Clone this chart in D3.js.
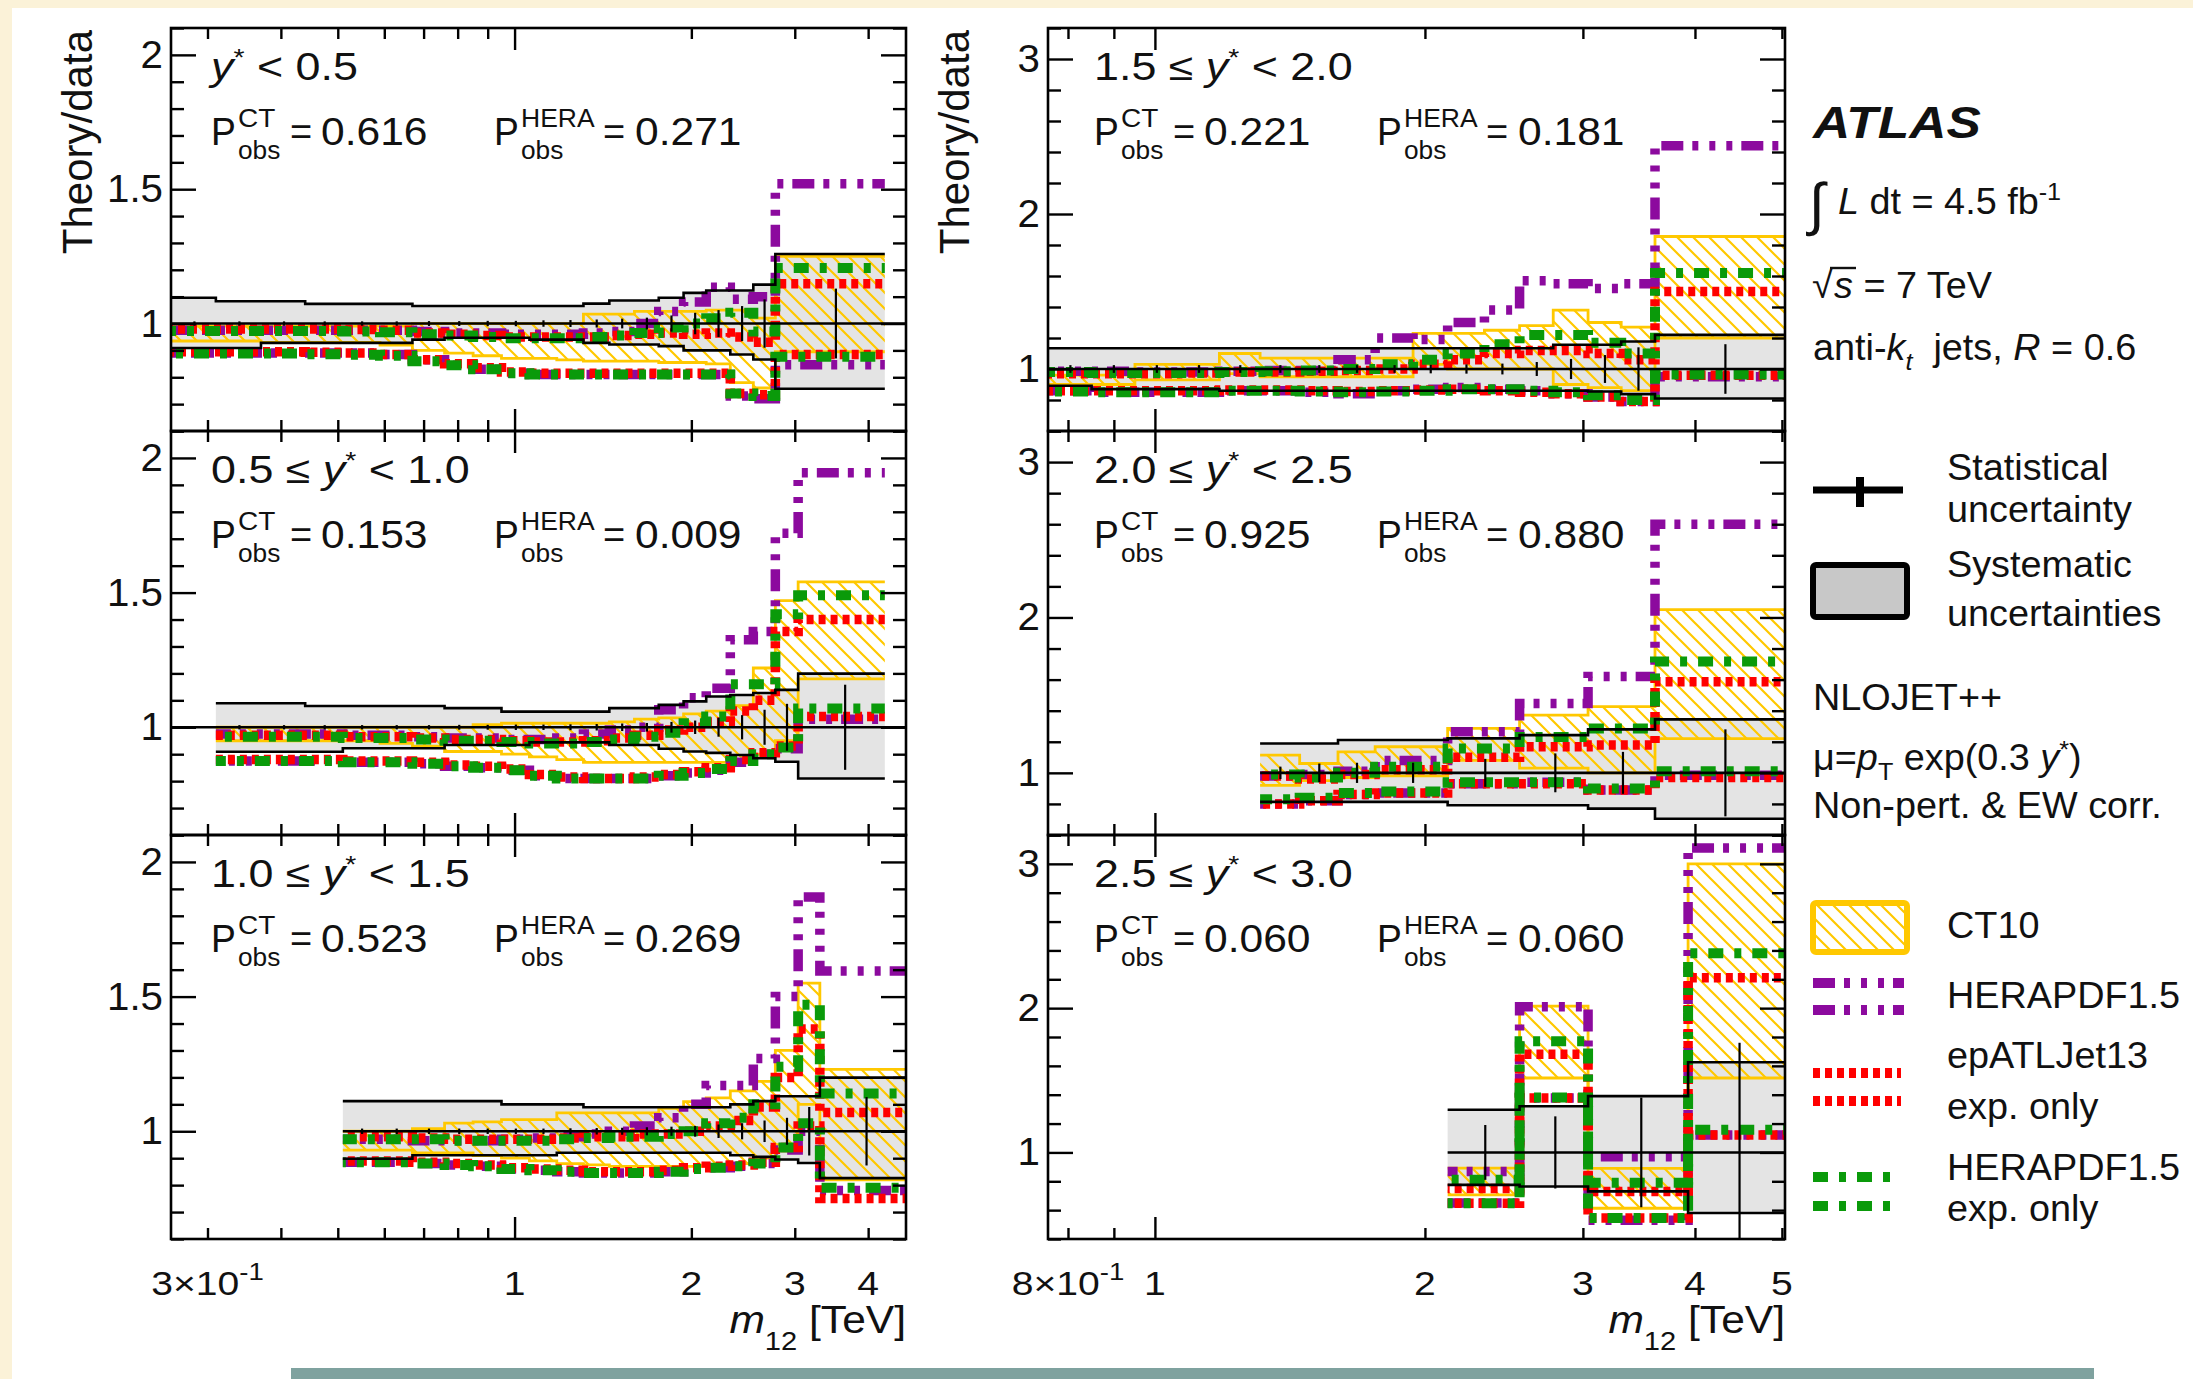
<!DOCTYPE html>
<html>
<head>
<meta charset="utf-8">
<script src="https://cdn.jsdelivr.net/npm/d3@7"></script>
<style>
  html, body { margin: 0; padding: 0; background: #fff; }
  svg { display: block; }
  text { font-family: "Liberation Sans", Arial, Helvetica, sans-serif; fill: #111; white-space: pre; }
</style>
</head>
<body>
<svg id="chart" width="2193" height="1379"></svg>
<script>
// ---------------- data: theory/data ratios per y* bin ----------------
const yStarRanges = [[null, "0.5"], ["0.5", "1.0"], ["1.0", "1.5"], ["1.5", "2.0"], ["2.0", "2.5"], ["2.5", "3.0"]];
const pObsCT   = ["0.616", "0.153", "0.523", "0.221", "0.925", "0.060"];
const pObsHERA = ["0.271", "0.009", "0.269", "0.181", "0.880", "0.060"];

// y* < 0.5
const p1Edges  = [0.26,0.31,0.37,0.44,0.51,0.59,0.67,0.76,0.85,0.95,1.06,1.18,1.31,1.45,1.60,1.76,1.94,2.12,2.33,2.55,2.78,4.27];
const p1SysUp  = [1.096,1.083,1.083,1.073,1.073,1.073,1.065,1.065,1.065,1.065,1.065,1.065,1.074,1.086,1.086,1.096,1.114,1.123,1.123,1.145,1.259];
const p1SysDn  = [0.909,0.909,0.928,0.928,0.928,0.928,0.94,0.947,0.947,0.947,0.94,0.94,0.928,0.922,0.922,0.916,0.90,0.90,0.885,0.866,0.757];
const p1Stat   = [0.008,0.008,0.008,0.008,0.008,0.008,0.009,0.009,0.01,0.01,0.012,0.013,0.015,0.018,0.022,0.03,0.04,0.05,0.065,0.09,0.13];
const p1CtUp   = [0.99,0.99,0.99,0.99,0.99,0.99,1.0,1.0,1.0,1.0,1.0,1.0,1.035,1.035,1.045,1.045,1.045,1.05,1.05,1.02,1.25];
const p1CtDn   = [0.935,0.935,0.93,0.93,0.93,0.92,0.90,0.89,0.88,0.87,0.87,0.865,0.86,0.86,0.86,0.855,0.855,0.85,0.78,0.76,0.895];
const p1HeraUp = [0.975,0.975,0.975,0.975,0.975,0.975,0.97,0.965,0.965,0.96,0.96,0.96,0.965,0.97,1.0,1.045,1.08,1.135,1.09,1.10,1.52];
const p1HeraDn = [0.89,0.89,0.89,0.89,0.89,0.885,0.865,0.845,0.83,0.815,0.81,0.81,0.81,0.81,0.81,0.81,0.81,0.81,0.73,0.72,0.847];
const p1EpUp   = [0.98,0.98,0.98,0.98,0.978,0.975,0.965,0.96,0.955,0.95,0.95,0.95,0.95,0.955,0.96,0.965,0.96,0.965,0.95,0.93,1.148];
const p1EpDn   = [0.895,0.895,0.895,0.893,0.89,0.885,0.865,0.85,0.835,0.82,0.815,0.815,0.815,0.815,0.815,0.815,0.815,0.815,0.74,0.735,0.885];
const p1GrUp   = [0.972,0.972,0.972,0.972,0.97,0.968,0.96,0.955,0.95,0.945,0.945,0.945,0.95,0.955,0.965,0.985,1.0,1.02,1.04,0.97,1.207];
const p1GrDn   = [0.888,0.888,0.888,0.886,0.884,0.88,0.86,0.845,0.83,0.815,0.81,0.81,0.81,0.81,0.81,0.81,0.81,0.81,0.74,0.73,0.876];

// 0.5 <= y* < 1.0
const p2Edges  = [0.31,0.37,0.44,0.51,0.59,0.67,0.76,0.85,0.95,1.06,1.18,1.31,1.45,1.60,1.76,1.94,2.12,2.33,2.55,2.78,3.04,4.27];
const p2SysUp  = [1.089,1.089,1.079,1.079,1.079,1.079,1.071,1.071,1.058,1.058,1.058,1.058,1.071,1.071,1.083,1.096,1.114,1.12,1.127,1.139,1.199];
const p2SysDn  = [0.909,0.909,0.909,0.922,0.922,0.922,0.934,0.934,0.934,0.944,0.944,0.944,0.934,0.934,0.92,0.91,0.905,0.897,0.885,0.872,0.81];
const p2Stat   = [0.008,0.008,0.008,0.008,0.008,0.008,0.009,0.009,0.01,0.01,0.011,0.012,0.014,0.016,0.02,0.025,0.035,0.045,0.065,0.087,0.158];
const p2CtUp   = [1.0,1.0,1.0,1.0,1.0,1.0,1.0,1.01,1.015,1.015,1.015,1.015,1.02,1.03,1.035,1.05,1.06,1.08,1.22,1.47,1.54];
const p2CtDn   = [0.95,0.95,0.95,0.95,0.94,0.93,0.91,0.91,0.90,0.89,0.88,0.87,0.87,0.87,0.87,0.87,0.87,0.87,0.90,0.95,1.18];
const p2HeraUp = [0.975,0.975,0.975,0.97,0.97,0.965,0.96,0.96,0.955,0.955,0.96,0.975,0.99,1.0,1.065,1.11,1.145,1.325,1.356,1.72,1.945];
const p2HeraDn = [0.875,0.875,0.875,0.87,0.87,0.865,0.855,0.85,0.84,0.82,0.81,0.81,0.81,0.81,0.82,0.83,0.84,0.87,0.90,0.92,1.03];
const p2EpUp   = [0.97,0.97,0.97,0.965,0.965,0.96,0.955,0.955,0.95,0.945,0.945,0.95,0.96,0.97,0.99,1.0,1.02,1.06,1.10,1.356,1.40];
const p2EpDn   = [0.88,0.88,0.88,0.875,0.875,0.87,0.86,0.855,0.845,0.825,0.815,0.81,0.81,0.815,0.825,0.835,0.85,0.88,0.905,0.93,1.04];
const p2GrUp   = [0.965,0.965,0.965,0.96,0.96,0.955,0.95,0.95,0.945,0.94,0.94,0.945,0.955,0.965,0.98,1.015,1.04,1.16,1.16,1.42,1.49];
const p2GrDn   = [0.875,0.875,0.875,0.87,0.87,0.865,0.855,0.85,0.84,0.82,0.81,0.81,0.81,0.81,0.82,0.83,0.845,0.875,0.90,0.925,1.07];

// 1.0 <= y* < 1.5
const p3Edges  = [0.51,0.59,0.67,0.76,0.85,0.95,1.06,1.18,1.31,1.45,1.60,1.76,1.94,2.12,2.33,2.55,2.78,3.04,3.31,4.64];
const p3SysUp  = [1.112,1.112,1.112,1.112,1.112,1.10,1.10,1.10,1.089,1.089,1.089,1.089,1.089,1.089,1.10,1.112,1.13,1.13,1.199];
const p3SysDn  = [0.898,0.898,0.911,0.911,0.911,0.911,0.911,0.92,0.92,0.92,0.92,0.92,0.92,0.92,0.911,0.905,0.895,0.882,0.826];
const p3Stat   = [0.01,0.01,0.01,0.01,0.01,0.01,0.01,0.011,0.012,0.013,0.015,0.017,0.02,0.025,0.03,0.04,0.05,0.09,0.127];
const p3CtUp   = [1.0,1.0,1.01,1.03,1.035,1.043,1.043,1.068,1.068,1.068,1.068,1.085,1.11,1.124,1.15,1.185,1.30,1.55,1.23];
const p3CtDn   = [0.93,0.93,0.92,0.92,0.91,0.90,0.89,0.88,0.875,0.87,0.87,0.87,0.87,0.87,0.88,0.90,0.95,1.10,0.82];
const p3HeraUp = [0.97,0.97,0.965,0.965,0.965,0.97,0.975,0.98,0.99,1.0,1.02,1.05,1.10,1.17,1.17,1.27,1.50,1.87,1.595];
const p3HeraDn = [0.885,0.885,0.88,0.875,0.87,0.86,0.855,0.85,0.845,0.845,0.845,0.85,0.86,0.865,0.87,0.88,0.93,1.0,0.78];
const p3EpUp   = [0.98,0.98,0.975,0.97,0.97,0.97,0.97,0.975,0.98,0.98,0.99,0.99,1.0,1.02,1.04,1.09,1.20,1.38,1.07];
const p3EpDn   = [0.89,0.89,0.885,0.88,0.875,0.865,0.86,0.855,0.85,0.85,0.85,0.855,0.865,0.87,0.875,0.885,0.94,1.02,0.75];
const p3GrUp   = [0.97,0.97,0.97,0.965,0.965,0.965,0.965,0.97,0.975,0.98,0.98,0.99,1.0,1.03,1.05,1.10,1.24,1.47,1.14];
const p3GrDn   = [0.885,0.885,0.88,0.875,0.87,0.86,0.855,0.85,0.845,0.845,0.845,0.85,0.86,0.865,0.87,0.88,0.94,1.03,0.79];

// 1.5 <= y* < 2.0
const p4Edges  = [0.76,0.85,0.95,1.06,1.18,1.31,1.45,1.60,1.76,1.94,2.12,2.33,2.55,2.78,3.04,3.31,3.61,5.04];
const p4SysUp  = [1.134,1.134,1.134,1.134,1.134,1.134,1.134,1.134,1.134,1.134,1.134,1.134,1.134,1.156,1.156,1.177,1.22];
const p4SysDn  = [0.892,0.87,0.87,0.87,0.86,0.86,0.86,0.86,0.86,0.86,0.86,0.86,0.86,0.86,0.855,0.838,0.81];
const p4Stat   = [0.025,0.025,0.025,0.025,0.025,0.025,0.025,0.025,0.025,0.028,0.03,0.035,0.045,0.065,0.09,0.14,0.16];
const p4CtUp   = [0.96,0.96,1.03,1.03,1.10,1.07,1.07,1.07,1.07,1.23,1.23,1.25,1.28,1.38,1.30,1.27,1.855];
const p4CtDn   = [0.90,0.90,0.93,0.93,0.97,0.95,0.95,0.95,0.95,1.03,1.0,1.0,1.0,0.9,0.88,0.86,1.2];
const p4HeraUp = [0.985,0.985,0.98,0.98,0.985,0.99,0.99,1.06,1.20,1.19,1.30,1.38,1.57,1.55,1.52,1.55,2.44];
const p4HeraDn = [0.86,0.85,0.85,0.85,0.86,0.86,0.85,0.84,0.86,0.87,0.88,0.87,0.86,0.84,0.82,0.79,0.95];
const p4EpUp   = [0.97,0.97,0.97,0.975,0.98,0.98,0.985,0.99,1.0,1.03,1.06,1.10,1.12,1.12,1.10,1.06,1.50];
const p4EpDn   = [0.86,0.86,0.86,0.86,0.865,0.865,0.86,0.855,0.86,0.865,0.87,0.86,0.85,0.84,0.82,0.79,0.96];
const p4GrUp   = [0.98,0.975,0.975,0.975,0.98,0.985,0.99,1.0,1.03,1.06,1.10,1.16,1.22,1.22,1.17,1.10,1.62];
const p4GrDn   = [0.855,0.85,0.85,0.85,0.86,0.86,0.855,0.85,0.855,0.86,0.87,0.87,0.86,0.85,0.83,0.80,0.965];

// 2.0 <= y* < 2.5
const p5Edges  = [1.31,1.45,1.60,1.76,2.12,2.55,3.04,3.61,5.04];
const p5SysUp  = [1.189,1.189,1.211,1.211,1.222,1.243,1.28,1.344];
const p5SysDn  = [0.813,0.813,0.813,0.813,0.791,0.791,0.77,0.705];
const p5Stat   = [0.04,0.06,0.065,0.065,0.09,0.125,0.135,0.28];
const p5CtUp   = [1.114,1.06,1.135,1.168,1.286,1.372,1.426,2.05];
const p5CtDn   = [0.92,0.95,0.97,0.98,1.08,1.03,1.0,1.22];
const p5HeraUp = [0.98,0.99,1.01,1.08,1.265,1.447,1.62,2.60];
const p5HeraDn = [0.80,0.82,0.86,0.87,0.93,0.94,0.89,0.985];
const p5EpUp   = [0.98,0.96,0.99,1.02,1.10,1.168,1.18,1.587];
const p5EpDn   = [0.80,0.82,0.86,0.87,0.93,0.93,0.89,0.97];
const p5GrUp   = [0.99,0.97,1.0,1.04,1.157,1.23,1.286,1.716];
const p5GrDn   = [0.83,0.84,0.87,0.88,0.94,0.94,0.90,1.01];

// 2.5 <= y* < 3.0
const p6Edges  = [2.12,2.55,3.04,3.93,5.04];
const p6SysUp  = [1.296,1.32,1.39,1.625];
const p6SysDn  = [0.775,0.764,0.73,0.58];
const p6Stat   = [0.19,0.25,0.38,0.76];
const p6CtUp   = [0.891,2.014,0.89,3.0];
const p6CtDn   = [0.706,1.516,0.613,1.516];
const p6HeraUp = [0.868,2.01,0.97,3.11];
const p6HeraDn = [0.65,1.377,0.53,1.12];
const p6EpUp   = [0.75,1.68,0.73,2.21];
const p6EpDn   = [0.648,1.377,0.545,1.12];
const p6GrUp   = [0.81,1.77,0.79,2.38];
const p6GrDn   = [0.648,1.38,0.545,1.157];

// axis ticks and labels
const xTicksLeft   = [0.3,0.4,0.5,0.6,0.7,0.8,0.9,1,2,3,4];
const xLabelsLeft  = [[0.3,"3×10","-1"],[1,"1"],[2,"2"],[3,"3"],[4,"4"]];
const xTicksRight  = [0.8,0.9,1,2,3,4,5];
const xLabelsRight = [[0.8,"8×10","-1"],[1,"1"],[2,"2"],[3,"3"],[4,"4"],[5,"5"]];
const yMajorLeft   = [1, 1.5, 2];
const yMajorRight  = [1, 2, 3];

// ---------------- layout & style ----------------
const W = 2193, H = 1379;
const colX = [[171, 906], [1048, 1785]];
const rowY = [[28, 431], [431, 835], [835, 1239]];
const YEL = "#ffc800", PUR = "#8c0a9e", RED = "#ff0000", GRN = "#0a9a0a";
const pdfStyles = [
  { up: "heraUp", dn: "heraDn", color: PUR, dash: "22,9,6,11,6,11,6,9", width: 9.5 },
  { up: "epUp",   dn: "epDn",   color: RED, dash: "7,5",                 width: 9.5 },
  { up: "grUp",   dn: "grDn",   color: GRN, dash: "15,11,7,11",          width: 10 }
];

const svg = d3.select("#chart");
const defs = svg.append("defs");
const hatch = defs.append("pattern").attr("id", "ct10hatch")
  .attr("patternUnits", "userSpaceOnUse").attr("width", 16).attr("height", 16);
hatch.append("path").attr("d", "M-4,-4 L20,20 M-4,12 L4,20 M12,-4 L20,4")
  .attr("stroke", YEL).attr("stroke-width", 2.2).attr("fill", "none");

// page background
svg.append("rect").attr("width", W).attr("height", H).attr("fill", "#fbf2d8");
svg.append("rect").attr("x", 12).attr("y", 8).attr("width", W - 12).attr("height", H - 8).attr("fill", "#fff");
svg.append("rect").attr("x", 291).attr("y", 1368).attr("width", 1803).attr("height", 11).attr("fill", "#7fa29f");

// rich text: parts are strings or [string, {italic, sup, sub, size, rise, drop}]
function rich(parent, x, y, parts, o) {
  const t = parent.append("text")
    .attr("transform", `translate(${x},${y}) scale(${o.sx || 1},1)`)
    .attr("font-size", o.size)
    .attr("text-anchor", o.anchor || "start");
  if (o.weight) t.attr("font-weight", o.weight);
  if (o.style) t.attr("font-style", o.style);
  let shift = 0;
  parts.forEach(p => {
    const s = typeof p === "string" ? p : p[0];
    const f = typeof p === "string" ? {} : (p[1] || {});
    const target = f.sup ? -(f.rise ?? o.size * 0.42) : f.sub ? (f.drop ?? o.size * 0.3) : 0;
    const ts = t.append("tspan").text(s).attr("dy", target - shift);
    shift = target;
    if (f.italic) ts.attr("font-style", "italic");
    if (f.sup || f.sub) ts.attr("font-size", f.size || o.size * 0.68);
    else if (f.size) ts.attr("font-size", f.size);
  });
  return t;
}

function stepPts(edges, vals) {
  const pts = vals.map((v, i) => [edges[i], v]);
  pts.push([edges[edges.length - 1], vals[vals.length - 1]]);
  return pts;
}

// ---------------- panels ----------------
const panels = [
  { id: 1, col: 0, row: 0, edges: p1Edges, sysUp: p1SysUp, sysDn: p1SysDn, stat: p1Stat, ctUp: p1CtUp, ctDn: p1CtDn,
    heraUp: p1HeraUp, heraDn: p1HeraDn, epUp: p1EpUp, epDn: p1EpDn, grUp: p1GrUp, grDn: p1GrDn, lineFrom: 0.26 },
  { id: 2, col: 0, row: 1, edges: p2Edges, sysUp: p2SysUp, sysDn: p2SysDn, stat: p2Stat, ctUp: p2CtUp, ctDn: p2CtDn,
    heraUp: p2HeraUp, heraDn: p2HeraDn, epUp: p2EpUp, epDn: p2EpDn, grUp: p2GrUp, grDn: p2GrDn, lineFrom: 0.26 },
  { id: 3, col: 0, row: 2, edges: p3Edges, sysUp: p3SysUp, sysDn: p3SysDn, stat: p3Stat, ctUp: p3CtUp, ctDn: p3CtDn,
    heraUp: p3HeraUp, heraDn: p3HeraDn, epUp: p3EpUp, epDn: p3EpDn, grUp: p3GrUp, grDn: p3GrDn, lineFrom: 0.51 },
  { id: 4, col: 1, row: 0, edges: p4Edges, sysUp: p4SysUp, sysDn: p4SysDn, stat: p4Stat, ctUp: p4CtUp, ctDn: p4CtDn,
    heraUp: p4HeraUp, heraDn: p4HeraDn, epUp: p4EpUp, epDn: p4EpDn, grUp: p4GrUp, grDn: p4GrDn, lineFrom: 0.76 },
  { id: 5, col: 1, row: 1, edges: p5Edges, sysUp: p5SysUp, sysDn: p5SysDn, stat: p5Stat, ctUp: p5CtUp, ctDn: p5CtDn,
    heraUp: p5HeraUp, heraDn: p5HeraDn, epUp: p5EpUp, epDn: p5EpDn, grUp: p5GrUp, grDn: p5GrDn, lineFrom: 1.31 },
  { id: 6, col: 1, row: 2, edges: p6Edges, sysUp: p6SysUp, sysDn: p6SysDn, stat: p6Stat, ctUp: p6CtUp, ctDn: p6CtDn,
    heraUp: p6HeraUp, heraDn: p6HeraDn, epUp: p6EpUp, epDn: p6EpDn, grUp: p6GrUp, grDn: p6GrDn, lineFrom: 2.12 }
];

function yDomainOf(P) {
  if (P.col === 0) return [0.6, 2.1];
  return P.row === 2 ? [0.4, 3.2] : [0.6, 3.2];
}

panels.forEach((P, idx) => {
  const [x0, x1] = colX[P.col], [y0, y1] = rowY[P.row];
  const xDom = P.col === 0 ? [0.26, 4.64] : [0.76, 5.04];
  const yDom = yDomainOf(P);
  const x = d3.scaleLog().domain(xDom).range([x0, x1]);
  const y = d3.scaleLinear().domain(yDom).range([y1, y0]);
  const g = svg.append("g");
  const cid = "clip" + P.id;
  defs.append("clipPath").attr("id", cid).append("rect")
    .attr("x", x0).attr("y", y0).attr("width", x1 - x0).attr("height", y1 - y0);
  const d = g.append("g").attr("clip-path", `url(#${cid})`);

  const line = d3.line().x(p => x(p[0])).y(p => y(p[1])).curve(d3.curveStepAfter);
  const area = d3.area().x(p => x(p.x)).y0(p => y(p.lo)).y1(p => y(p.hi)).curve(d3.curveStepAfter);
  const band = (up, dn) => P.edges.map((e, i) => {
    const k = Math.min(i, up.length - 1);
    return { x: e, lo: dn[k], hi: up[k] };
  });

  // systematic uncertainty band
  d.append("path").attr("d", area(band(P.sysUp, P.sysDn))).attr("fill", "#e4e4e4");
  // CT10 band
  d.append("path").attr("d", area(band(P.ctUp, P.ctDn))).attr("fill", "url(#ct10hatch)");
  [P.ctUp, P.ctDn].forEach(v => d.append("path").attr("d", line(stepPts(P.edges, v)))
    .attr("fill", "none").attr("stroke", YEL).attr("stroke-width", 2.8));
  // HERAPDF1.5, epATLJet13 and HERAPDF1.5 exp. only variations
  pdfStyles.forEach((s, si) => {
    [P[s.up], P[s.dn]].forEach((v, vi) => d.append("path").attr("d", line(stepPts(P.edges, v)))
      .attr("fill", "none").attr("stroke", s.color).attr("stroke-width", s.width)
      .attr("stroke-dasharray", s.dash).attr("stroke-dashoffset", (idx * 7 + si * 5 + vi * 11) % 23));
  });
  // systematic band edges
  [P.sysUp, P.sysDn].forEach(v => d.append("path").attr("d", line(stepPts(P.edges, v)))
    .attr("fill", "none").attr("stroke", "#000").attr("stroke-width", 2.6));
  // data = 1 line
  d.append("line").attr("x1", x(P.lineFrom)).attr("x2", x1).attr("y1", y(1)).attr("y2", y(1))
    .attr("stroke", "#000").attr("stroke-width", 2.6);
  // statistical uncertainties
  P.stat.forEach((s, i) => {
    const c = (P.edges[i] + P.edges[i + 1]) / 2;
    d.append("line").attr("x1", x(c)).attr("x2", x(c)).attr("y1", y(1 - s)).attr("y2", y(1 + s))
      .attr("stroke", "#000").attr("stroke-width", 2.2);
  });

  // frame
  g.append("rect").attr("x", x0).attr("y", y0).attr("width", x1 - x0).attr("height", y1 - y0)
    .attr("fill", "none").attr("stroke", "#000").attr("stroke-width", 2.6);

  // ticks (inward, on all four sides)
  const tickStyle = sel => { sel.select(".domain").remove(); sel.selectAll("line").attr("stroke", "#000").attr("stroke-width", 2.4); };
  const xTicks = P.col === 0 ? xTicksLeft : xTicksRight;
  const xMinor = xTicks.filter(v => v !== 1);
  [[d3.axisBottom, y1], [d3.axisTop, y0]].forEach(([ax, pos]) => {
    g.append("g").attr("transform", `translate(0,${pos})`)
      .call(ax(x).tickValues(xMinor).tickSize(-11).tickFormat("")).call(tickStyle);
    g.append("g").attr("transform", `translate(0,${pos})`)
      .call(ax(x).tickValues([1]).tickSize(-22).tickFormat("")).call(tickStyle);
  });
  const yMajor = P.col === 0 ? yMajorLeft : yMajorRight;
  const yAll = P.col === 0 ? d3.range(6, 22).map(v => v / 10)
    : d3.range(Math.round(yDom[0] * 5), 17).map(v => v / 5);
  const yMinor = yAll.filter(v => !yMajor.some(m => Math.abs(m - v) < 1e-6));
  [[d3.axisLeft, x0], [d3.axisRight, x1]].forEach(([ax, pos]) => {
    g.append("g").attr("transform", `translate(${pos},0)`)
      .call(ax(y).tickValues(yMinor).tickSize(-13).tickFormat("")).call(tickStyle);
    g.append("g").attr("transform", `translate(${pos},0)`)
      .call(ax(y).tickValues(yMajor).tickSize(-25).tickFormat("")).call(tickStyle);
  });

  // y tick labels
  yMajor.forEach(v => rich(g, x0 - 8, y(v) + 13, [String(v)], { size: 38, sx: 1.06, anchor: "end" }));

  // x tick labels and title on the bottom row
  if (P.row === 2) {
    const labs = P.col === 0 ? xLabelsLeft : xLabelsRight;
    labs.forEach(l => {
      const parts = l.length === 3 ? [l[1], [l[2], { sup: true, size: 24, rise: 15 }]] : [l[1]];
      rich(g, x(l[0]), 1295, parts, { size: 34, sx: 1.15, anchor: "middle" });
    });
    rich(g, x1, 1333, [["m", { italic: true }], ["12", { sub: true, size: 26, drop: 17 }], " [TeV]"],
      { size: 38, sx: 1.12, anchor: "end" });
  }

  // y* range and p-values
  const tx = P.col === 0 ? 211 : 1094;
  const r = yStarRanges[P.id - 1];
  const lab = r[0] === null
    ? [["y", { italic: true }], ["*", { sup: true, size: 24, rise: 14 }], " < " + r[1]]
    : [r[0] + " ≤ ", ["y", { italic: true }], ["*", { sup: true, size: 24, rise: 14 }], " < " + r[1]];
  rich(g, tx, y0 + 52, lab, { size: 38, sx: 1.18 });
  const pBase = y0 + 117;
  [[0, "CT", pObsCT[P.id - 1], 79, 110, 1.12], [283, "HERA", pObsHERA[P.id - 1], 392, 424, 1.06]].forEach(([off, sup, val, eqOff, valOff, supSx]) => {
    rich(g, tx + off, pBase, ["P"], { size: 38, sx: 0.98 });
    rich(g, tx + off + 27, pBase - 18, [sup], { size: 25, sx: supSx });
    rich(g, tx + off + 27, pBase + 14, ["obs"], { size: 25, sx: 1.05 });
    rich(g, tx + eqOff, pBase, ["="], { size: 38, sx: 1.0 });
    rich(g, tx + valOff, pBase, [val], { size: 38, sx: 1.12 });
  });
});

// y-axis titles
[92, 969].forEach(xp => svg.append("text").attr("transform", `translate(${xp},30) rotate(-90)`)
  .attr("font-size", 42).attr("text-anchor", "end").text("Theory/data"));

// ---------------- legend and labels ----------------
const lg = svg.append("g");
const LS = { size: 36, sx: 1.05 };
rich(lg, 1813, 138, ["ATLAS"], { size: 44, sx: 1.17, weight: "bold", style: "italic" });
rich(lg, 1809, 224, ["∫"], { size: 58, sx: 1.0 });
rich(lg, 1838, 214, [["L", { italic: true }], " dt = 4.5 fb", ["-1", { sup: true, size: 24, rise: 14 }]], LS);
rich(lg, 1812, 298, ["√"], { size: 38, sx: 1.0 });
lg.append("line").attr("x1", 1830).attr("x2", 1856).attr("y1", 268).attr("y2", 268).attr("stroke", "#111").attr("stroke-width", 2.4);
rich(lg, 1834, 298, [["s", { italic: true }], " = 7 TeV"], LS);
rich(lg, 1813, 360, ["anti-", ["k", { italic: true }], ["t", { sub: true, italic: true, size: 24, drop: 10 }], "  jets, ", ["R", { italic: true }], " = 0.6"], LS);

// statistical uncertainty key
lg.append("line").attr("x1", 1813).attr("x2", 1903).attr("y1", 490).attr("y2", 490).attr("stroke", "#000").attr("stroke-width", 7);
lg.append("line").attr("x1", 1860).attr("x2", 1860).attr("y1", 477).attr("y2", 507).attr("stroke", "#000").attr("stroke-width", 8);
rich(lg, 1947, 480, ["Statistical"], LS);
rich(lg, 1947, 522, ["uncertainty"], LS);
// systematic uncertainty key
lg.append("rect").attr("x", 1813).attr("y", 565).attr("width", 94).attr("height", 52).attr("rx", 3)
  .attr("fill", "#c8c8c8").attr("stroke", "#000").attr("stroke-width", 6);
rich(lg, 1947, 577, ["Systematic"], LS);
rich(lg, 1947, 626, ["uncertainties"], LS);

rich(lg, 1813, 710, ["NLOJET++"], LS);
rich(lg, 1813, 770, ["μ=", ["p", { italic: true }], ["T", { sub: true, size: 24, drop: 10 }], " exp(0.3 ", ["y", { italic: true }], ["*", { sup: true, size: 24, rise: 12 }], ")"], LS);
rich(lg, 1813, 818, ["Non-pert. & EW corr."], LS);

// CT10 key
lg.append("rect").attr("x", 1813).attr("y", 903).attr("width", 94).attr("height", 49).attr("rx", 3)
  .attr("fill", "#fff").attr("stroke", "none");
lg.append("rect").attr("x", 1813).attr("y", 903).attr("width", 94).attr("height", 49).attr("rx", 3)
  .attr("fill", "url(#ct10hatch)").attr("stroke", YEL).attr("stroke-width", 6);
rich(lg, 1947, 938, ["CT10"], LS);
// PDF variation keys (two lines: upper and lower edge)
const keyRows = [
  { style: pdfStyles[0], ys: [983, 1010], x2: 1904 },
  { style: pdfStyles[1], ys: [1073, 1101], x2: 1901 },
  { style: pdfStyles[2], ys: [1177, 1206], x2: 1893 }
];
keyRows.forEach(k => k.ys.forEach(yy => lg.append("line").attr("x1", 1813).attr("x2", k.x2)
  .attr("y1", yy).attr("y2", yy).attr("stroke", k.style.color).attr("stroke-width", 10)
  .attr("stroke-dasharray", k.style.dash)));
rich(lg, 1947, 1008, ["HERAPDF1.5"], LS);
rich(lg, 1947, 1068, ["epATLJet13"], LS);
rich(lg, 1947, 1119, ["exp. only"], LS);
rich(lg, 1947, 1180, ["HERAPDF1.5"], LS);
rich(lg, 1947, 1221, ["exp. only"], LS);
</script>
</body>
</html>
